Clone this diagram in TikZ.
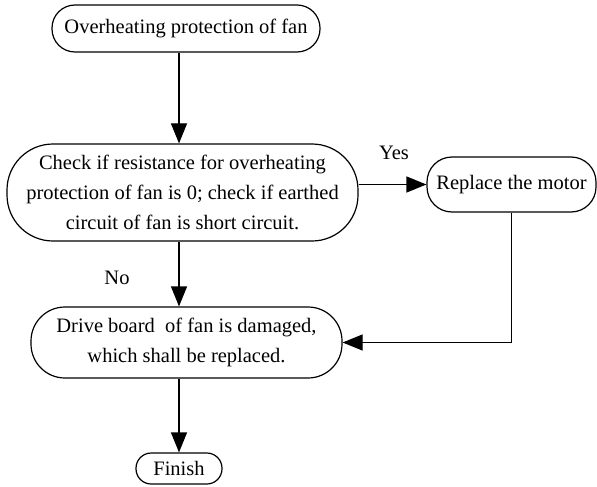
\documentclass[tikz,border=0pt]{standalone}
\usepackage{fontspec}
\setmainfont{Liberation Serif}
\usetikzlibrary{arrows.meta,positioning}

\begin{document}
\begin{tikzpicture}[
    x=0.5pt,y=-0.5pt,
    box/.style={
        draw,
        line width=0.6pt,
        align=center,
        inner sep=0pt,
        font=\fontsize{10.25}{15}\selectfont
    },
    flow/.style={-{Triangle[length=10pt,width=8pt]},line width=0.6pt},
    tag/.style={font=\fontsize{10.25}{15}\selectfont}
]
\useasboundingbox (0,0) rectangle (597,486);

\node[box,rounded corners=11.5pt,minimum width=134pt,minimum height=23.5pt]
    (overheat) at (186,28.5) {Overheating protection of fan};

\node[box,rounded corners=23pt,minimum width=175.5pt,minimum height=48.5pt]
    (check) at (182.5,192.5) {
    Check if resistance for overheating\\
    protection of fan is 0; check if earthed\\
    circuit of fan is short circuit.
};

\node[box,rounded corners=12.5pt,minimum width=84.5pt,minimum height=27.5pt]
    (motor) at (511.5,184.5) {Replace the\ motor};

\node[box,rounded corners=17pt,minimum width=155.5pt,minimum height=35.5pt]
    (board) at (186.5,342.5) {
    Drive board\ \ of fan is damaged,\\
    which shall be replaced.
};

\node[box,rounded corners=7.6pt,minimum width=43pt,minimum height=15.5pt]
    (finish) at (179,468.5) {Finish};

\node[tag] (yes) at (394,153) {Yes};
\node[tag] (no) at (117,278) {No};

\draw[flow] (overheat.south -| finish.north) -- (check.north -| finish.north);
\draw[flow] (check.east |- motor.west) -- (motor.west);
\draw[flow] (check.south -| finish.north) -- (board.north -| finish.north);
\draw[flow] (motor.south) |- (board.east);
\draw[flow] (board.south -| finish.north) -- (finish.north);
\end{tikzpicture}
\end{document}
